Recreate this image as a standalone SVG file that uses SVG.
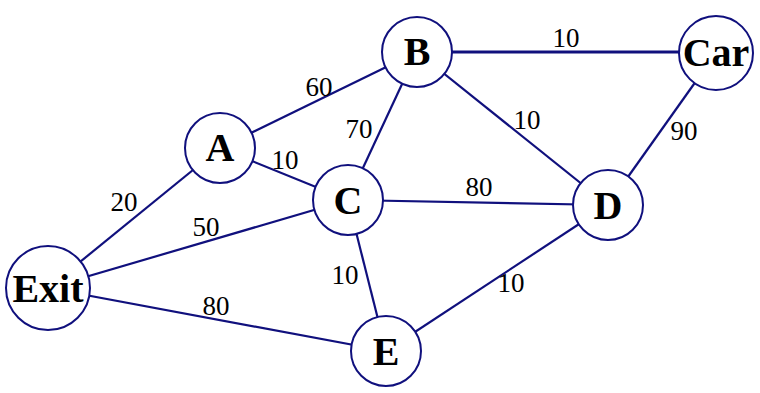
<svg xmlns="http://www.w3.org/2000/svg" width="760" height="393" viewBox="0 0 760 393">
<style>
.e{stroke:#10107d;stroke-width:2.2;fill:none}
.n circle{fill:#fff;stroke:#10107d;stroke-width:2}
</style>
<rect width="760" height="393" fill="#fff"/>
<g id="connectors">
<line class="e" x1="417" y1="52" x2="716" y2="52" style="stroke-width:3"/>
<line class="e" x1="220" y1="148" x2="417" y2="52"/>
<line class="e" x1="348" y1="200" x2="417" y2="52"/>
<line class="e" x1="417" y1="52" x2="608" y2="205"/>
<line class="e" x1="716" y1="53" x2="608" y2="205"/>
<line class="e" x1="220" y1="148" x2="348" y2="200"/>
<line class="e" x1="348" y1="200" x2="608" y2="205"/>
<line class="e" x1="48" y1="288" x2="220" y2="148"/>
<line class="e" x1="48" y1="288" x2="348" y2="200"/>
<line class="e" x1="48" y1="288" x2="386" y2="351"/>
<line class="e" x1="348" y1="200" x2="386" y2="351"/>
<line class="e" x1="386" y1="351" x2="608" y2="205"/>
<g font-family="Liberation Serif" font-size="27" text-anchor="middle" fill="#000">
<text x="566" y="47">10</text>
<text x="319" y="96">60</text>
<text x="359" y="138">70</text>
<text x="527" y="129">10</text>
<text x="684" y="140">90</text>
<text x="285" y="169">10</text>
<text x="479" y="196">80</text>
<text x="124" y="211">20</text>
<text x="206" y="236">50</text>
<text x="345" y="284">10</text>
<text x="511" y="292">10</text>
<text x="216" y="315">80</text>
</g>
</g>
<g font-family="Liberation Serif" font-weight="bold" font-size="40" text-anchor="middle" fill="#000">
<g id="B" class="n"><circle cx="417" cy="52" r="35"/><text x="417" y="65">B</text></g>
<g id="Car" class="n"><circle cx="716" cy="53" r="37"/><text x="716" y="66">Car</text></g>
<g id="A" class="n"><circle cx="220" cy="148" r="35"/><text x="220" y="161">A</text></g>
<g id="C" class="n"><circle cx="348" cy="200" r="35"/><text x="348" y="214">C</text></g>
<g id="D" class="n"><circle cx="608" cy="205" r="35"/><text x="608" y="219">D</text></g>
<g id="Exit" class="n"><circle cx="48" cy="288" r="42"/><text x="48" y="302">Exit</text></g>
<g id="E" class="n"><circle cx="386" cy="351" r="35"/><text x="386" y="365">E</text></g>
</g>
</svg>
